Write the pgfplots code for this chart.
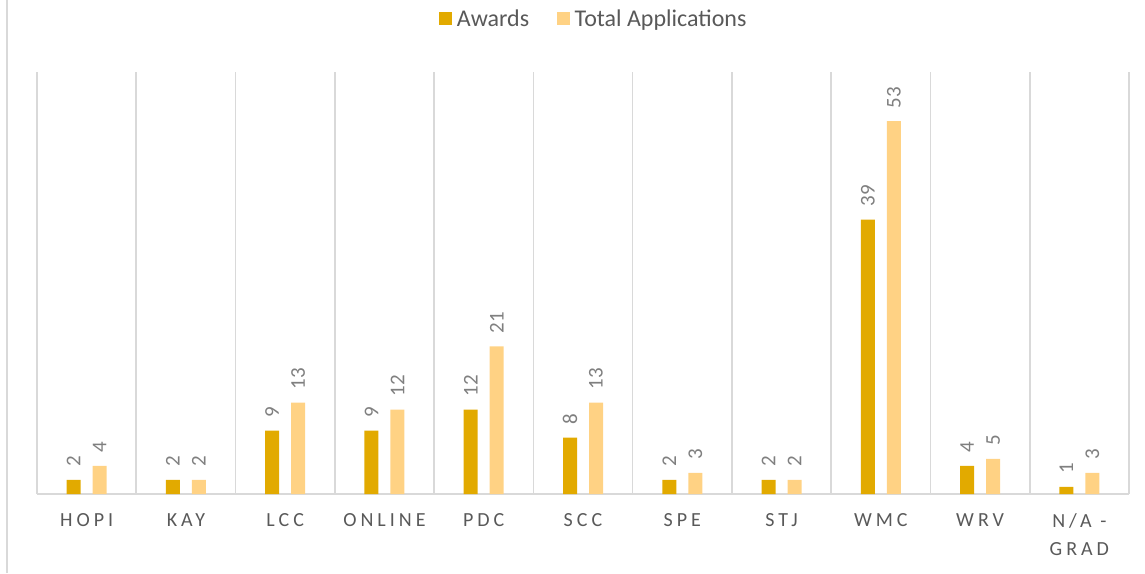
\documentclass[border=0pt]{standalone}
\usepackage{fontspec}
\setmainfont{Carlito}
\newfontfamily\spaced{Carlito}[LetterSpace=20]
\usepackage{pgfplots}
\pgfplotsset{compat=1.18}
\definecolor{awd}{HTML}{E2AA00}
\definecolor{app}{HTML}{FFD284}
\definecolor{gridc}{HTML}{D9D9D9}
\definecolor{txt}{HTML}{595959}
\definecolor{lbl}{HTML}{7F7F7F}
\begin{document}
\begin{tikzpicture}
\begin{axis}[
  at={(37pt,79pt)}, anchor=south west,
  scale only axis, width=1092pt, height=422pt,
  ybar, bar width=14pt,
  xmin=-0.5, xmax=10.5, ymin=0, ymax=60,
  axis y line=none, axis x line*=bottom,
  x axis line style={draw=gridc, line width=1.8pt, -},
  xtick={0,...,10},
  xticklabels={HOPI,KAY,LCC,ONLINE,PDC,SCC,SPE,STJ,WMC,WRV,{N/A -\\GRAD}},
  xticklabel style={font=\spaced\fontsize{20}{28}\selectfont, text=txt, align=center, anchor=north, yshift=-16pt},
  major tick length=0pt,
  minor xtick={-0.5,0.5,...,10.5},
  minor tick length=0pt,
  xminorgrids, minor grid style={draw=gridc, line width=1.7pt},
  /pgf/number format/assume math mode=true,
  nodes near coords,
  nodes near coords style={font=\fontsize{21}{24}\selectfont, text=lbl, rotate=90, anchor=west, inner xsep=13pt, inner ysep=0pt},
  legend columns=2,
  legend style={draw=none, fill=none, at={(0.51,1)}, anchor=center, yshift=53pt,
    font=\fontsize{24}{27}\selectfont, text=txt,
    /tikz/every odd column/.append style={column sep=3pt},
    /tikz/every even column/.append style={column sep=26pt}},
  legend image code/.code={\fill[#1] (0pt,-6pt) rectangle (12.5pt,6.5pt);},
]
\addplot[fill=awd, draw=none, bar shift=-13pt] coordinates {(0,2) (1,2) (2,9) (3,9) (4,12) (5,8) (6,2) (7,2) (8,39) (9,4) (10,1)};
\addlegendentry{Awards}
\addplot[fill=app, draw=none, bar shift=13pt] coordinates {(0,4) (1,2) (2,13) (3,12) (4,21) (5,13) (6,3) (7,2) (8,53) (9,5) (10,3)};
\addlegendentry{Total Applications}
\end{axis}
\draw[gridc, line width=1.7pt] (7pt,0pt) -- (7pt,573pt);
\pgfresetboundingbox
\useasboundingbox (0pt,0pt) rectangle (1145pt,573pt);
\end{tikzpicture}
\end{document}
